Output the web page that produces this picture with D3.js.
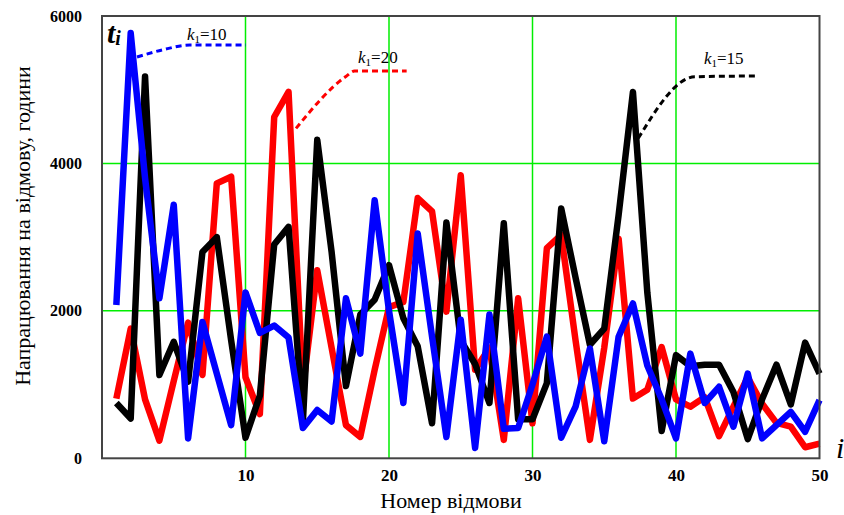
<!DOCTYPE html>
<html>
<head>
<meta charset="utf-8">
<script src="https://cdn.jsdelivr.net/npm/d3@7"></script>
<style>
  body { margin: 0; background: #fff; }
  svg { display: block; }
  .tick text { font-family: 'Liberation Serif', 'Times New Roman', serif; font-weight: bold; fill: #000; }
</style>
</head>
<body>
<div id="chart"></div>
<script>
// failure index i = 1..50
const idx = d3.range(1, 51)

// k1 = 10 (blue)
const k10 = [2080, 5770, 3800, 2170, 3440, 270, 1850, 1150, 450, 2250,
  1700, 1800, 1640, 410, 655, 500, 2170, 1420, 3500, 2000,
  750, 3050, 1650, 290, 1880, 140, 1950, 400, 410, 1000,
  1650, 280, 700, 1490, 230, 1650, 2100, 1260, 800, 270,
  1420, 750, 970, 430, 1150, 270, 450, 630, 360, 790]

// k1 = 20 (red)
const k20 = [810, 1760, 800, 240, 1050, 1840, 1130, 3730, 3820, 1100,
  600, 4630, 4970, 950, 2550, 1500, 450, 290, 1200, 2050,
  2120, 3530, 3350, 1990, 3840, 1200, 1500, 250, 2170, 475,
  2850, 3030, 1600, 250, 1500, 2980, 810, 930, 1510, 800,
  700, 830, 300, 700, 1100, 740, 480, 430, 150, 200]

// k1 = 15 (black)
const k15 = [750, 540, 5180, 1130, 1580, 1040, 2800, 3000, 1600, 280,
  850, 2900, 3140, 500, 4320, 2800, 980, 1950, 2150, 2620,
  1900, 1520, 475, 3200, 1600, 1280, 750, 3190, 530, 530,
  1020, 3390, 2450, 1540, 1760, 3300, 4970, 2250, 370, 1400,
  1250, 1270, 1270, 900, 260, 800, 1270, 730, 1570, 1150]

const xTicks = [10, 20, 30, 40, 50]
const yTicks = [0, 2000, 4000, 6000]

const width = 844,
  height = 515,
  pLeft = 102,
  pRight = 819.5,
  pTop = 16,
  pBottom = 458.3

const x = d3.scaleLinear().domain([0, 50]).range([pLeft, pRight])
const y = d3.scaleLinear().domain([0, 6000]).range([pBottom, pTop])

const svg = d3
  .select('#chart')
  .append('svg')
  .attr('width', width)
  .attr('height', height)

// grid
svg.append('g')
  .selectAll('line')
  .data(xTicks.slice(0, -1))
  .enter()
  .append('line')
  .attr('x1', d => x(d)).attr('x2', d => x(d))
  .attr('y1', pTop).attr('y2', pBottom)
  .attr('stroke', '#00ee00')
  .attr('stroke-width', 1.5)

svg.append('g')
  .selectAll('line')
  .data(yTicks.slice(1, -1))
  .enter()
  .append('line')
  .attr('x1', pLeft).attr('x2', pRight)
  .attr('y1', d => y(d)).attr('y2', d => y(d))
  .attr('stroke', '#00ee00')
  .attr('stroke-width', 1.5)

// axes labels via d3 axes
const xAxis = svg.append('g')
  .attr('transform', `translate(0, ${pBottom})`)
  .call(d3.axisBottom(x).tickValues(xTicks).tickSize(0).tickPadding(11))
xAxis.select('.domain').remove()
xAxis.selectAll('text').style('font-size', '17px')

const yAxis = svg.append('g')
  .attr('transform', `translate(${pLeft}, 0)`)
  .call(d3.axisLeft(y).tickValues(yTicks).tickFormat(d3.format('d')).tickSize(0).tickPadding(20))
yAxis.select('.domain').remove()
yAxis.selectAll('text').style('font-size', '16px')

// series
const line = d3.line()
  .x((d, i) => x(idx[i]))
  .y(d => y(d))

const series = [
  { name: 'k20', values: k20, color: '#ff0000' },
  { name: 'k15', values: k15, color: '#000000' },
  { name: 'k10', values: k10, color: '#0000ff' },
]

svg.append('g')
  .selectAll('path')
  .data(series)
  .enter()
  .append('path')
  .attr('d', d => line(d.values))
  .attr('fill', 'none')
  .attr('stroke', d => d.color)
  .attr('stroke-width', 6.5)
  .attr('stroke-linejoin', 'round')

// frame
svg.append('rect')
  .attr('x', pLeft).attr('y', pTop)
  .attr('width', pRight - pLeft).attr('height', pBottom - pTop)
  .attr('fill', 'none')
  .attr('stroke', '#444')
  .attr('stroke-width', 2)

// annotations (data units)
const notes = [
  { label: '10', color: '#0000ff', pts: [[2.44, 5444], [4.2, 5540], [6.13, 5607], [10.03, 5607]], tx: 5.92, ty: 5680 },
  { label: '20', color: '#ff0000', pts: [[13.52, 4476], [17.0, 5180], [17.6, 5254], [21.23, 5254]], tx: 17.84, ty: 5365 },
  { label: '15', color: '#000000', pts: [[37.37, 4341], [41.32, 5176], [45.5, 5186]], tx: 41.95, ty: 5345 },
]

const leader = d3.line()
  .x(d => x(d[0]))
  .y(d => y(d[1]))
  .curve(d3.curveMonotoneX)

notes.forEach(n => {
  svg.append('path')
    .attr('d', leader(n.pts))
    .attr('fill', 'none')
    .attr('stroke', n.color)
    .attr('stroke-width', 3)
    .attr('stroke-dasharray', '6,4')

  const t = svg.append('text')
    .attr('x', x(n.tx))
    .attr('y', y(n.ty))
    .style('font-family', "'Liberation Serif', 'Times New Roman', serif")
    .style('font-size', '17px')
  t.append('tspan').style('font-style', 'italic').text('k')
  t.append('tspan').attr('dy', 3).style('font-size', '11px').text('1')
  t.append('tspan').attr('dy', -3).text('=' + n.label)
})

// t_i label
const ti = svg.append('text')
  .attr('x', pLeft + 5)
  .attr('y', 43)
  .style('font-family', "'Liberation Serif', 'Times New Roman', serif")
  .style('font-style', 'italic')
  .style('font-weight', 'bold')
ti.append('tspan').style('font-size', '30px').text('t')
ti.append('tspan').attr('dy', 2).style('font-size', '20px').text('i')

// i label at the x axis end
svg.append('text')
  .attr('x', 836)
  .attr('y', 458)
  .style('font-family', "'Liberation Serif', 'Times New Roman', serif")
  .style('font-style', 'italic')
  .style('font-size', '30px')
  .text('i')

// axis titles
svg.append('text')
  .attr('x', 451)
  .attr('y', 508)
  .attr('text-anchor', 'middle')
  .style('font-family', "'Liberation Serif', 'Times New Roman', serif")
  .style('font-size', '22px')
  .text('Номер відмови')

svg.append('text')
  .attr('transform', 'translate(30, 226) rotate(-90)')
  .attr('text-anchor', 'middle')
  .style('font-family', "'Liberation Serif', 'Times New Roman', serif")
  .style('font-size', '22px')
  .text('Напрацювання на відмову, години')
</script>
</body>
</html>
